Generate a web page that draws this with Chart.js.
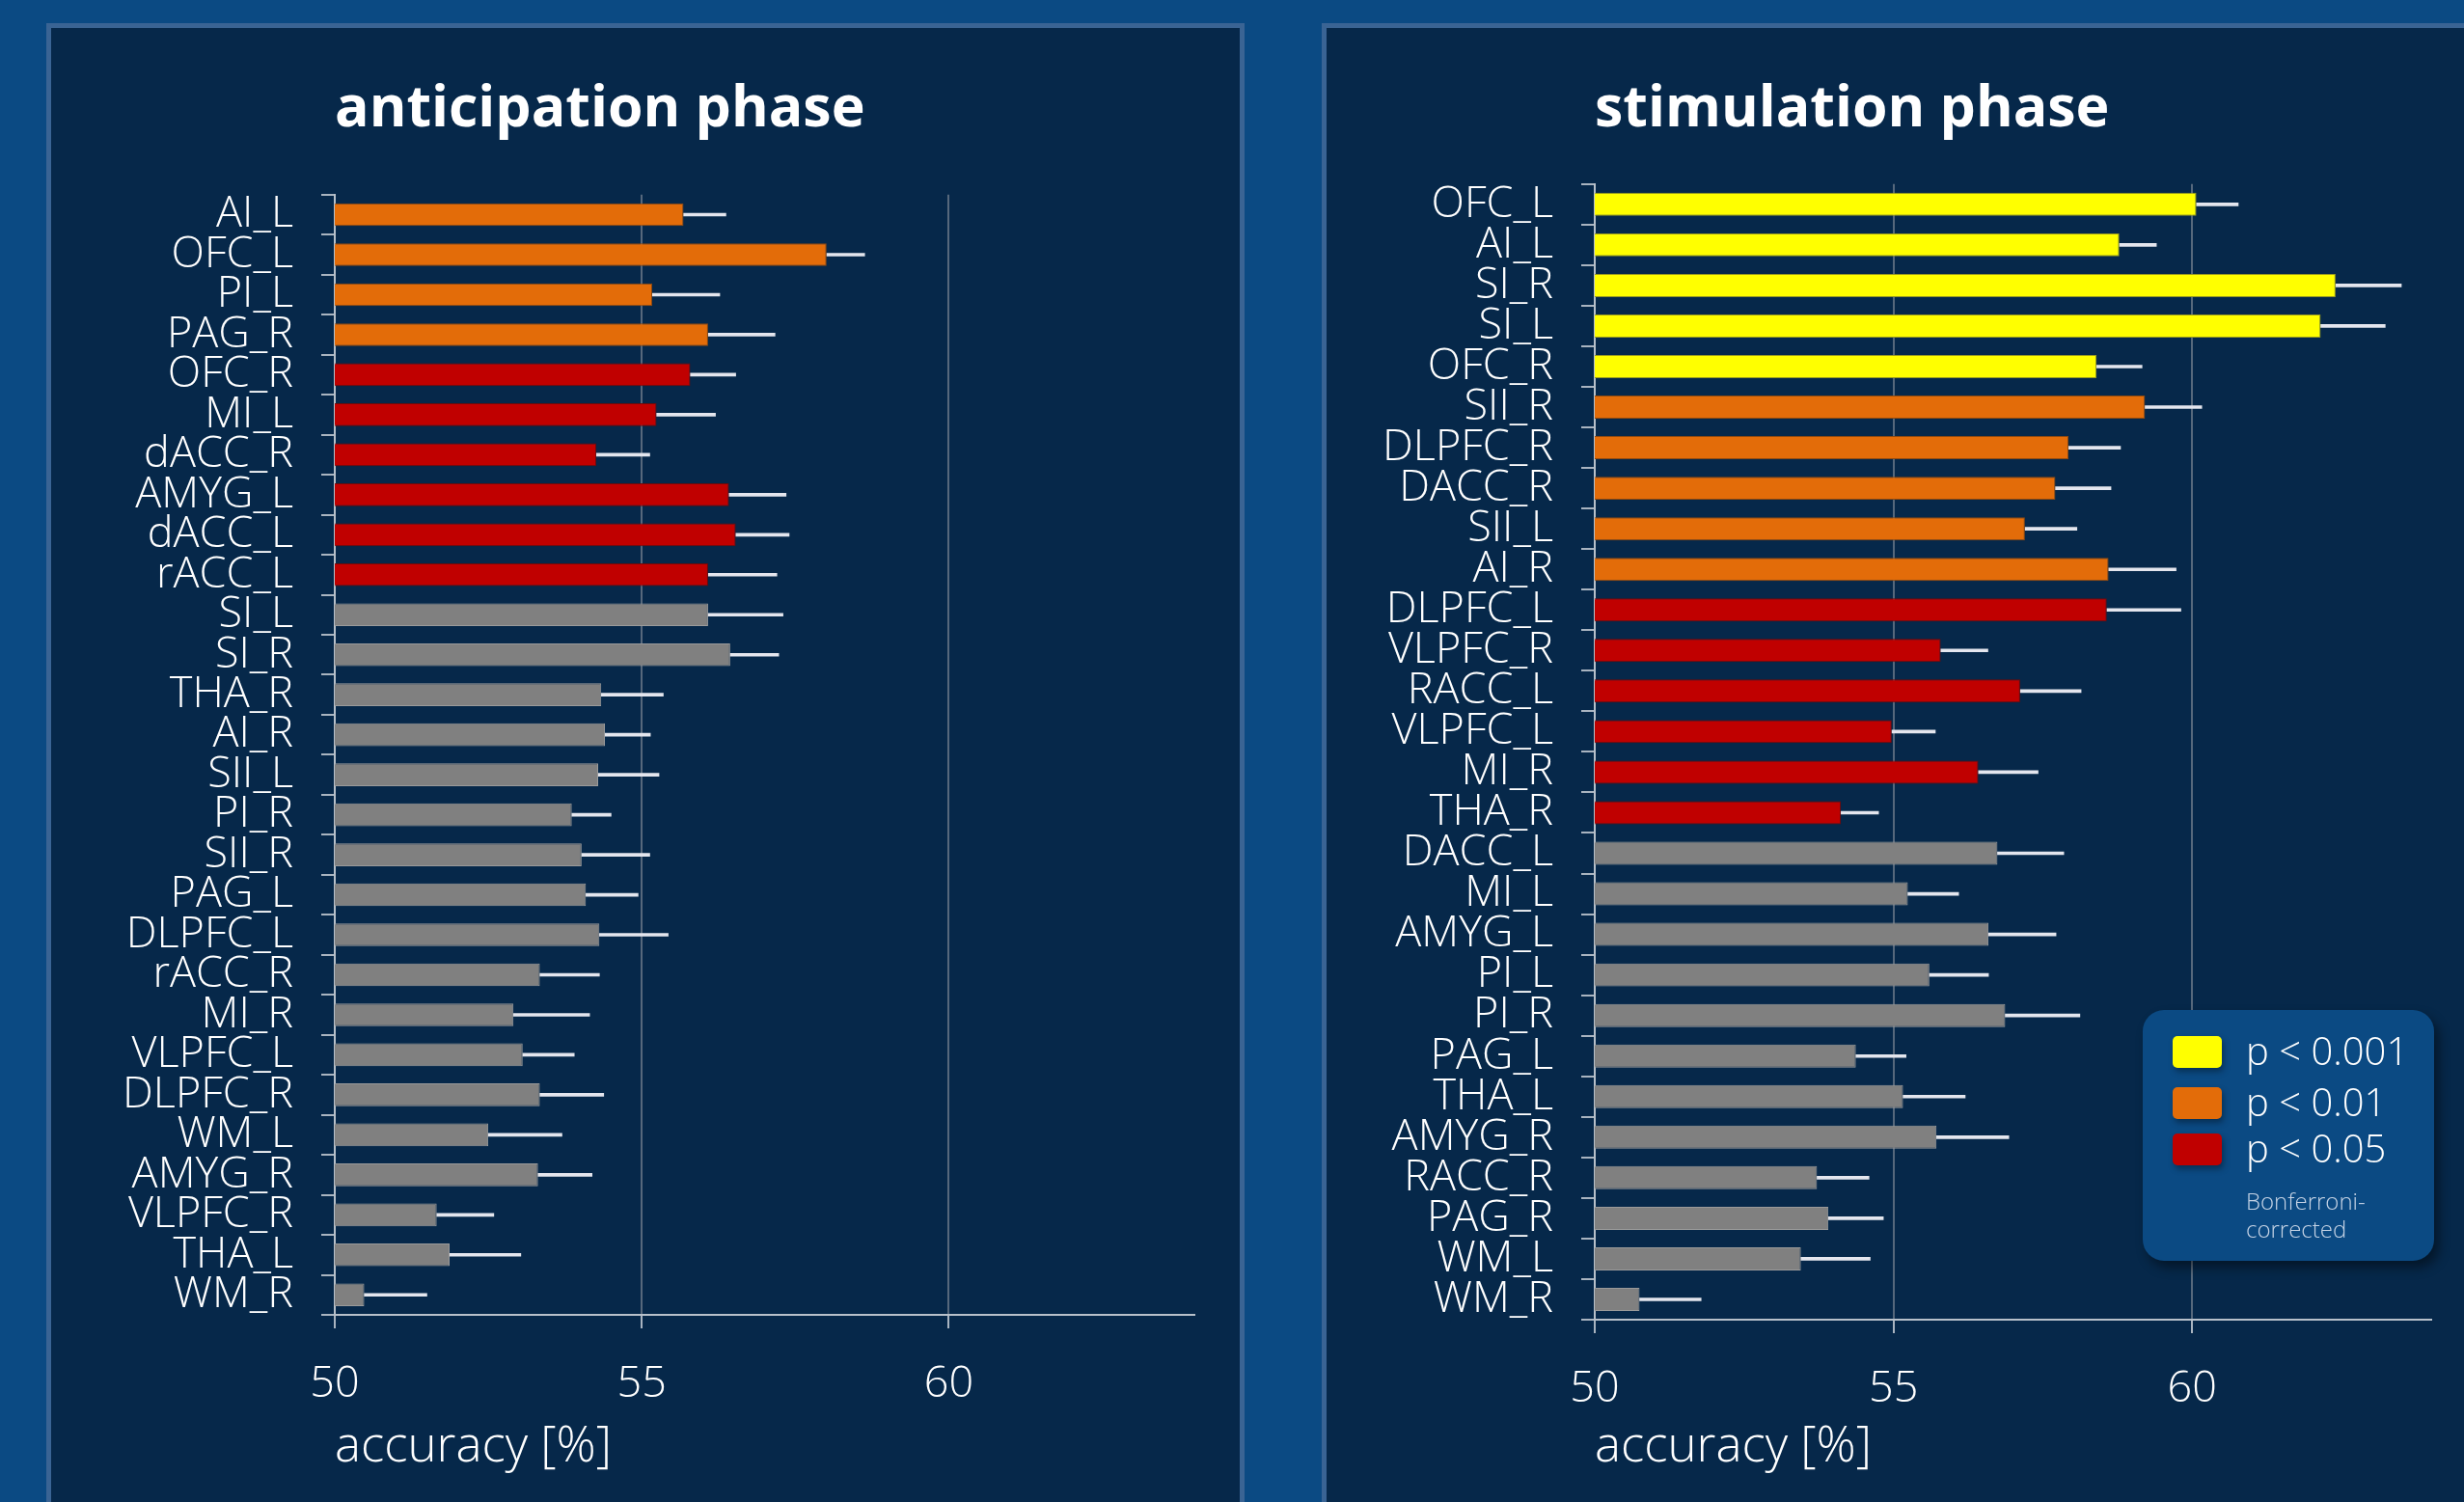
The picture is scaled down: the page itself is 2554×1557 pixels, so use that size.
<!DOCTYPE html>
<html>
<head>
<meta charset="utf-8">
<title>anticipation / stimulation phase</title>
<script src="https://cdn.jsdelivr.net/npm/chart.js@4.4.1/dist/chart.umd.min.js"></script>
<style>
  html, body { margin: 0; padding: 0; }
  body { width: 2554px; height: 1557px; background: #0b4a83; overflow: hidden; position: relative; font-family: 'Open Sans', sans-serif; }
  .panel { position: absolute; top: 24px; height: 1600px; background: #06284a; border: 5px solid #3a6494; border-bottom: none; box-sizing: border-box; }
  #panelAnt { left: 48px; width: 1242px; }
  #panelStim { left: 1370px; width: 1250px; }
  .chartBox { position: absolute; top: 24px; height: 1533px; }
  #boxAnt { left: 49px; width: 1238px; }
  #boxStim { left: 1375px; width: 1179px; }
  #legend { position: absolute; left: 2221px; top: 1047px; width: 302px; height: 260px; border-radius: 22px;
            background: #0b4a83; box-shadow: 5px 7px 12px rgba(0,0,0,0.45); }
  .item { position: absolute; left: 31px; height: 33px; }
  .swatch { position: absolute; left: 0; top: 0; width: 51px; height: 33px; border-radius: 5px; box-shadow: 2px 4px 6px rgba(0,0,0,0.35); }
  .item span { position: absolute; left: 76px; top: -13px; color: #fff; font-size: 40px; font-weight: 300; white-space: nowrap; line-height: 56px; }
  #note { position: absolute; left: 107px; top: 183px; color: #c5d3e5; font-size: 24px; line-height: 29px; font-weight: 300; }
</style>
</head>
<body>
<div class="panel" id="panelAnt"></div>
<div class="panel" id="panelStim"></div>
<div class="chartBox" id="boxAnt"><canvas id="antChart"></canvas></div>
<div class="chartBox" id="boxStim"><canvas id="stimChart"></canvas></div>
<div id="legend"></div>

<script>
// anticipation phase
const antLabels = ['AI_L','OFC_L','PI_L','PAG_R','OFC_R','MI_L','dACC_R','AMYG_L','dACC_L','rACC_L',
  'SI_L','SI_R','THA_R','AI_R','SII_L','PI_R','SII_R','PAG_L','DLPFC_L','rACC_R',
  'MI_R','VLPFC_L','DLPFC_R','WM_L','AMYG_R','VLPFC_R','THA_L','WM_R'];
const antAccuracy = [55.68,58.01,55.17,56.08,55.79,55.24,54.26,56.42,56.53,56.08,
  56.08,56.44,54.34,54.40,54.29,53.86,54.02,54.09,54.31,53.34,
  52.91,53.06,53.34,52.50,53.31,51.66,51.87,50.48];
const antError = [0.69,0.62,1.10,1.09,0.74,0.96,0.87,0.93,0.87,1.12,
  1.22,0.79,1.01,0.74,0.99,0.64,1.11,0.85,1.12,0.97,
  1.24,0.84,1.04,1.20,0.88,0.93,1.16,1.02];
const antSig = ['p01','p01','p01','p01','p05','p05','p05','p05','p05','p05',
  'ns','ns','ns','ns','ns','ns','ns','ns','ns','ns',
  'ns','ns','ns','ns','ns','ns','ns','ns'];

// stimulation phase
const stimLabels = ['OFC_L','AI_L','SI_R','SI_L','OFC_R','SII_R','DLPFC_R','DACC_R','SII_L','AI_R',
  'DLPFC_L','VLPFC_R','RACC_L','VLPFC_L','MI_R','THA_R','DACC_L','MI_L','AMYG_L','PI_L',
  'PI_R','PAG_L','THA_L','AMYG_R','RACC_R','PAG_R','WM_L','WM_R'];
const stimAccuracy = [60.07,58.78,62.40,62.15,58.40,59.21,57.93,57.71,57.20,58.60,
  58.57,55.79,57.12,54.97,56.42,54.12,56.74,55.24,56.59,55.60,
  56.87,54.37,55.16,55.72,53.72,53.91,53.45,50.75];
const stimError = [0.70,0.62,1.10,1.08,0.76,0.95,0.87,0.93,0.87,1.13,
  1.24,0.79,1.02,0.73,1.00,0.63,1.11,0.85,1.13,0.99,
  1.25,0.84,1.04,1.21,0.87,0.92,1.16,1.03];
const stimSig = ['p001','p001','p001','p001','p001','p01','p01','p01','p01','p01',
  'p05','p05','p05','p05','p05','p05','ns','ns','ns','ns',
  'ns','ns','ns','ns','ns','ns','ns','ns'];

const xTicks = [50, 55, 60];
const legendKeys = ['p001', 'p01', 'p05'];
const legendText = ['p < 0.001', 'p < 0.01', 'p < 0.05'];
const legendNote = ['Bonferroni-', 'corrected'];

const sigColor = { p001: '#ffff00', p01: '#e36c09', p05: '#c00000', ns: '#808080' };
const sigBorder = { p001: '#9a9a20', p01: '#8f4a10', p05: '#6e0a0a', ns: '#9a9a9a' };
const FONT = "'Open Sans', 'DejaVu Sans', sans-serif";

function buildChart(canvasId, title, labels, values, errors, sig, lay) {
  const ctx = document.getElementById(canvasId).getContext('2d');
  return new Chart(ctx, {
    type: 'bar',
    data: {
      labels: labels,
      datasets: [{
        label: 'accuracy',
        data: values,
        backgroundColor: sig.map(s => sigColor[s]),
        borderColor: sig.map(s => sigBorder[s]),
        borderWidth: 1,
        grouped: false,
        barPercentage: 0.57,
        categoryPercentage: 1
      }, {
        label: 'error',
        data: values.map((v, i) => [v, v + errors[i]]),
        backgroundColor: '#e4e6ee',
        borderWidth: 0,
        grouped: false,
        barThickness: 3
      }]
    },
    options: {
      indexAxis: 'y',
      responsive: true,
      maintainAspectRatio: false,
      animation: false,
      layout: { padding: { top: 20, right: lay.right, left: 0, bottom: 0 } },
      plugins: {
        legend: { display: false },
        tooltip: { enabled: false },
        title: {
          display: true, text: title, align: 'start', fullSize: false, color: '#ffffff',
          font: { family: FONT, size: 59, weight: 'bold' },
          padding: { top: 35, bottom: lay.titleBottom }
        }
      },
      scales: {
        x: {
          type: 'linear', min: 50, max: 64,
          afterFit: s => { s.height = lay.xHeight; },
          grid: { color: '#56687c', lineWidth: 2, tickLength: 14, tickColor: '#a9b4c0' },
          border: { display: true, color: '#b7c0ca', width: 2 },
          afterBuildTicks: s => { s.ticks = xTicks.map(v => ({ value: v })); },
          ticks: { color: '#ffffff', font: { family: FONT, size: 45, weight: 300 }, padding: 31 },
          title: {
            display: true, text: 'accuracy [%]', align: 'start', color: '#ffffff',
            font: { family: FONT, size: 51, weight: 300 }, padding: { top: 0, bottom: 26 }
          }
        },
        y: {
          type: 'category',
          afterFit: s => { s.width = lay.yWidth; },
          grid: { drawOnChartArea: false, tickLength: 14, tickColor: '#a9b4c0', lineWidth: 2, offset: true },
          border: { display: true, color: '#b7c0ca', width: 2 },
          ticks: { color: '#ffffff', font: { family: FONT, size: 45, weight: 300 }, padding: 29, autoSkip: false }
        }
      }
    }
  });
}

buildChart('antChart', 'anticipation phase', antLabels, antAccuracy, antError, antSig,
  { right: 49, yWidth: 298, xHeight: 194, titleBottom: 52 });
buildChart('stimChart', 'stimulation phase', stimLabels, stimAccuracy, stimError, stimSig,
  { right: 34, yWidth: 278, xHeight: 189, titleBottom: 41 });

// legend box
const legend = document.getElementById('legend');
const rowTops = [27, 80, 128];
legendKeys.forEach((k, i) => {
  const item = document.createElement('div');
  item.className = 'item';
  item.style.top = rowTops[i] + 'px';
  const sw = document.createElement('div');
  sw.className = 'swatch';
  sw.style.background = sigColor[k];
  const txt = document.createElement('span');
  txt.textContent = legendText[i];
  item.appendChild(sw);
  item.appendChild(txt);
  legend.appendChild(item);
});
const note = document.createElement('div');
note.id = 'note';
note.innerHTML = legendNote.join('<br>');
legend.appendChild(note);
</script>
</body>
</html>
